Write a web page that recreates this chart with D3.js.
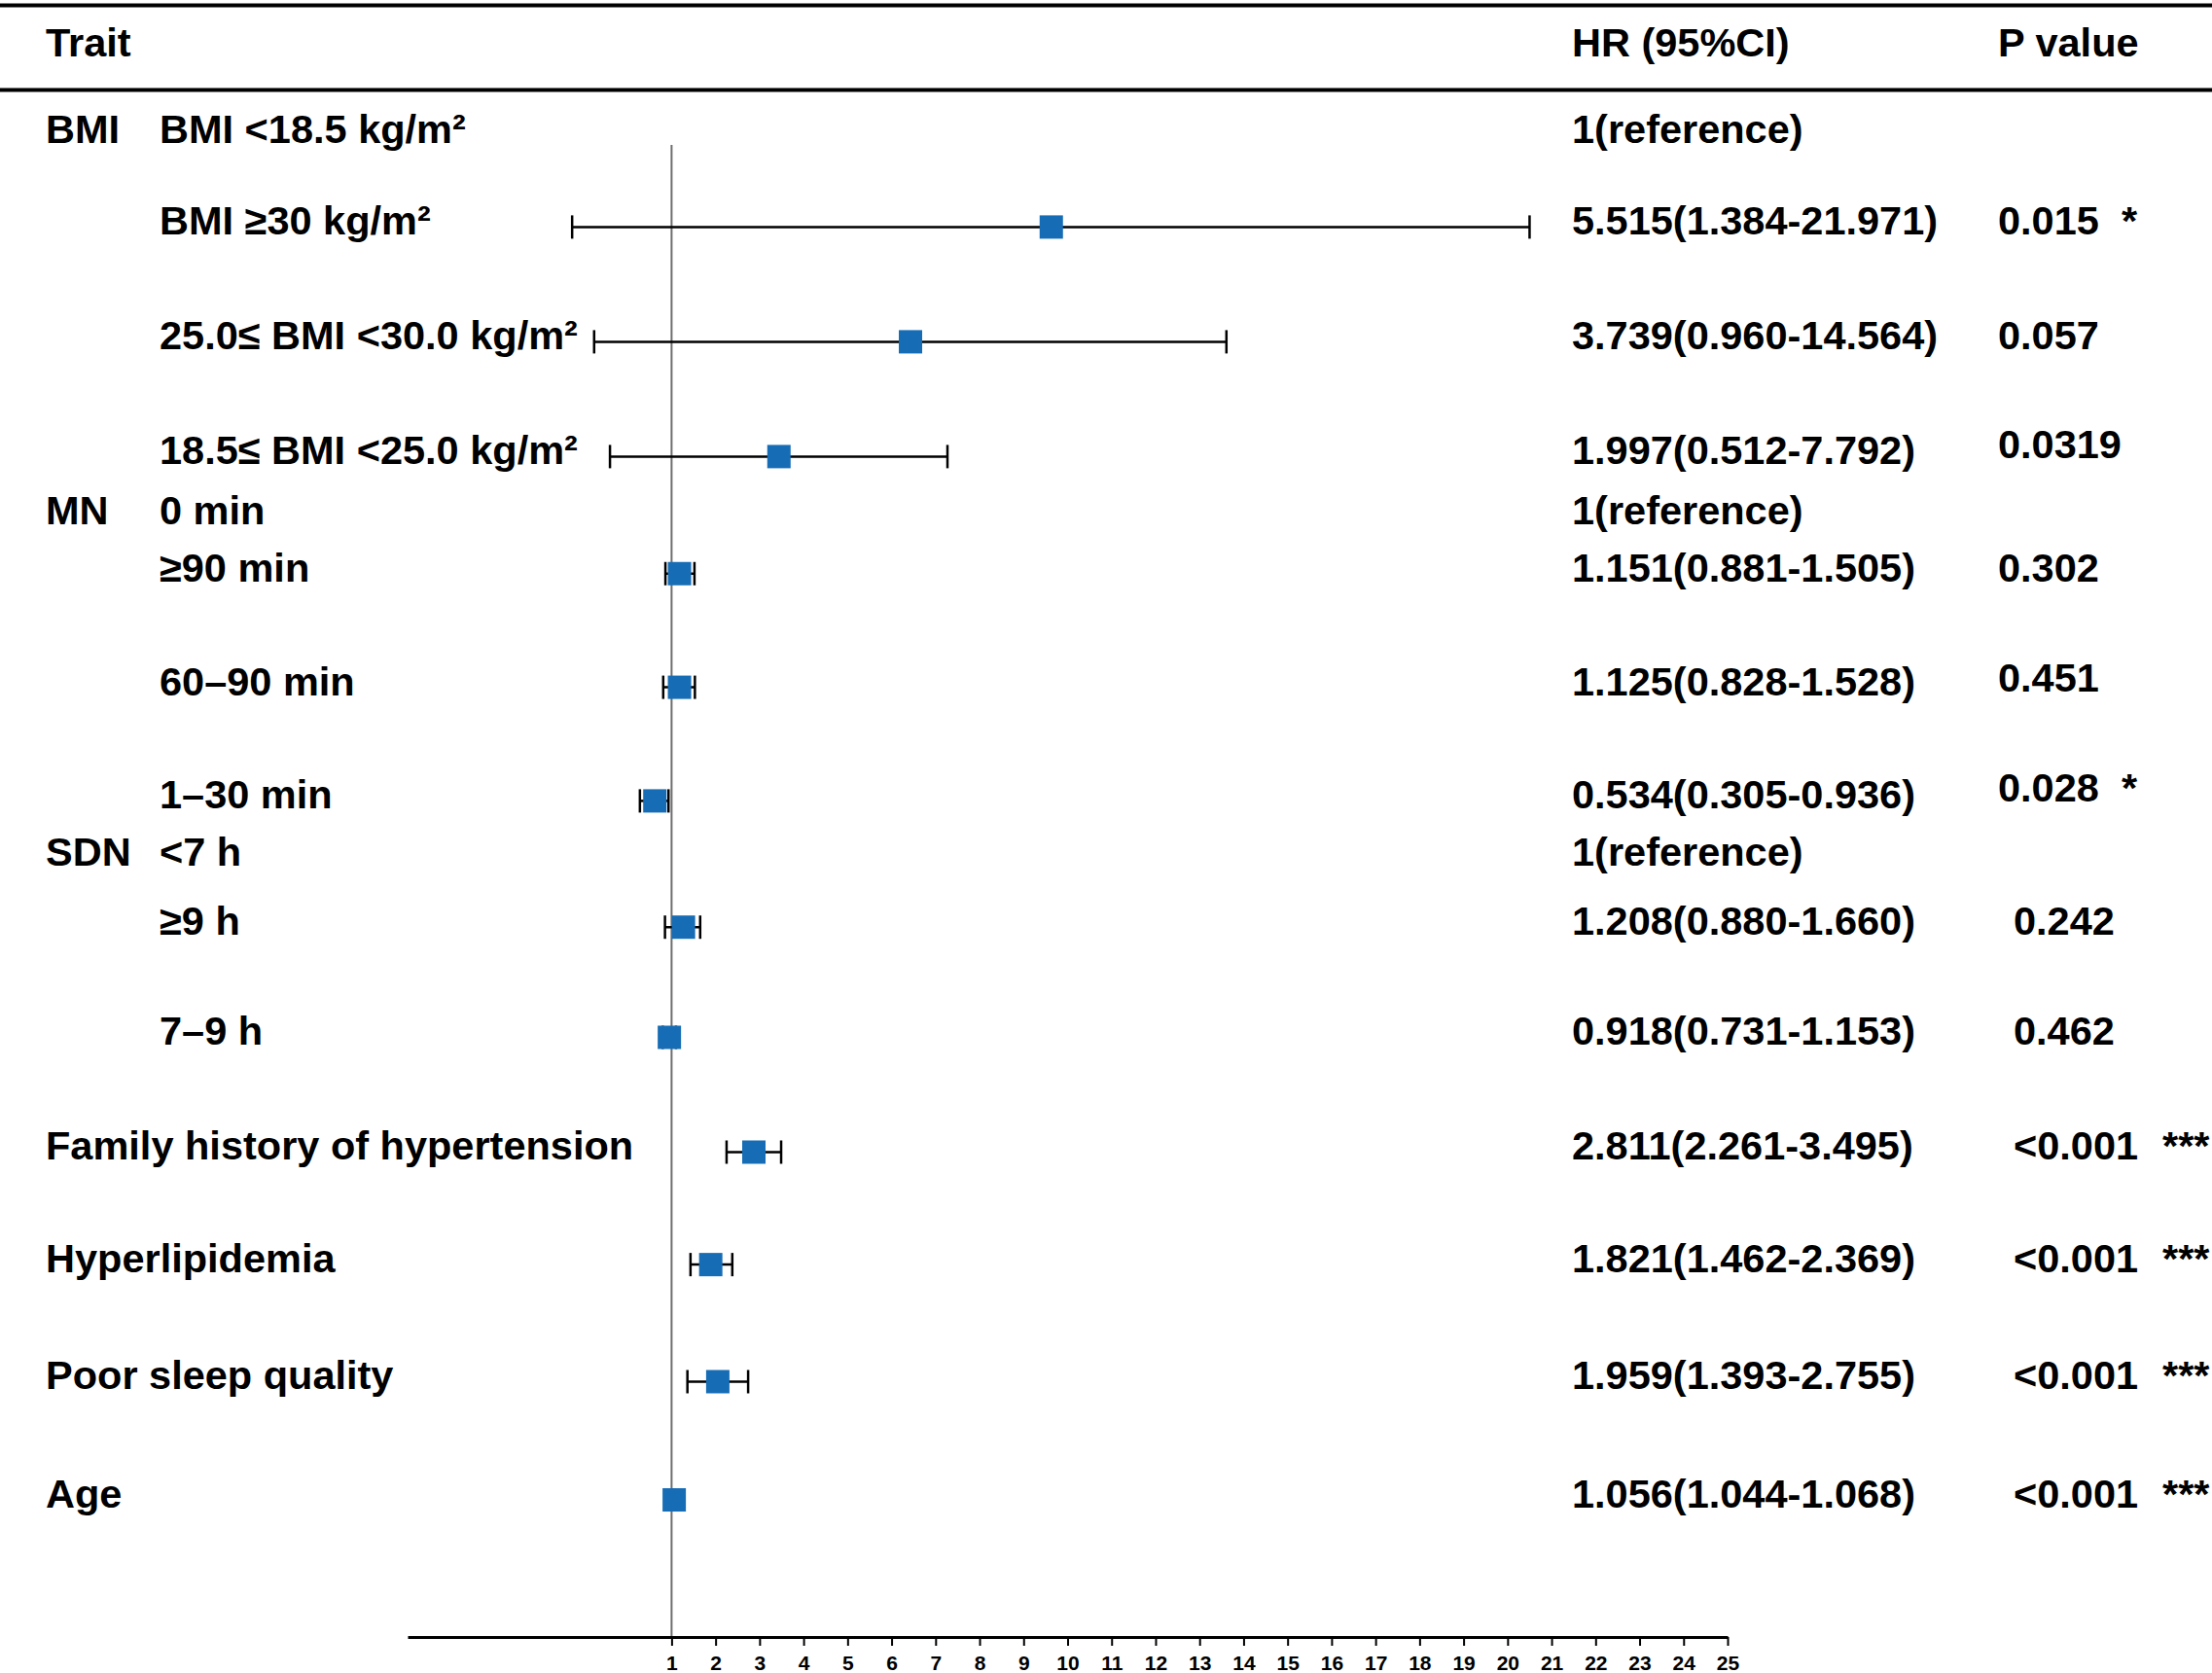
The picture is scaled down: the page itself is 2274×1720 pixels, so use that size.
<!DOCTYPE html>
<html>
<head>
<meta charset="utf-8">
<title>Forest plot</title>
<script src="https://cdn.jsdelivr.net/npm/d3@7"></script>
<style>
	body { margin: 0; background: #ffffff; }
	#forest-plot text { font-family: "Liberation Sans", Arial, sans-serif; font-weight: bold; fill: #000; }
</style>
</head>
<body>
<div id="forest-plot"></div>
<script>

// table rows, top to bottom
const traits = ["BMI", "", "", "", "MN", "", "", "", "SDN", "", "",
	"Family history of hypertension", "Hyperlipidemia", "Poor sleep quality", "Age"];

const levels = ["BMI <18.5 kg/m²", "BMI ≥30 kg/m²", "25.0≤ BMI <30.0 kg/m²", "18.5≤ BMI <25.0 kg/m²",
	"0 min", "≥90 min", "60–90 min", "1–30 min",
	"<7 h", "≥9 h", "7–9 h",
	"", "", "", ""];

const hrLabels = ["1(reference)", "5.515(1.384-21.971)", "3.739(0.960-14.564)", "1.997(0.512-7.792)",
	"1(reference)", "1.151(0.881-1.505)", "1.125(0.828-1.528)", "0.534(0.305-0.936)",
	"1(reference)", "1.208(0.880-1.660)", "0.918(0.731-1.153)",
	"2.811(2.261-3.495)", "1.821(1.462-2.369)", "1.959(1.393-2.755)", "1.056(1.044-1.068)"];

const pLabels = ["", "0.015", "0.057", "0.0319",
	"", "0.302", "0.451", "0.028",
	"", "0.242", "0.462",
	"<0.001", "<0.001", "<0.001", "<0.001"];

const stars = ["", "*", "", "", "", "", "", "*", "", "", "", "***", "***", "***", "***"];

// point and whisker ends as they sit on the drawn axis
const hrPlot = [null, 9.63, 6.43, 3.44, null, 1.18, 1.18, 0.62, null, 1.27, 0.95, 2.87, 1.89, 2.05, 1.06];
const loPlot = [null, -1.26, -0.76, -0.40, null, 0.86, 0.81, 0.28, null, 0.85, 0.80, 2.25, 1.43, 1.36, 1.05];
const hiPlot = [null, 20.50, 13.61, 7.27, null, 1.52, 1.53, 0.93, null, 1.65, 1.10, 3.49, 2.38, 2.74, 1.07];

const axisTicks = d3.range(1, 26);


class ForestPlot {

	constructor(parentElement) {
		this.parentElement = parentElement;
		this.displayData = null;

		this.initVis();
	}

	initVis () {
		let vis = this;

		vis.width = 2274;
		vis.height = 1720;

		vis.svg = d3.select("#" + vis.parentElement).append("svg")
			.attr("width", vis.width)
			.attr("height", vis.height);

		// rows are not evenly spaced: reference rows sit half a step from their neighbours
		vis.rowSlot = [0, 0.8, 1.8, 2.8, 3.32, 3.82, 4.81, 5.8, 6.3, 6.9, 7.86, 8.86, 9.84, 10.86, 11.89];
		vis.y = d3.scaleLinear()
			.domain([0, 1])
			.range([147, 265]);

		vis.x = d3.scaleLinear()
			.domain([-5, 25])
			.range([419, 1776]);

		vis.col = { trait: 47, level: 164, hr: 1616, p: 2054, pIndented: 2070, star1: 2181, star3: 2223 };
		vis.fontSize = 41.5;
		vis.boxSize = 24;
		vis.axisY = 1683;

		// table rules
		vis.svg.append("line")
			.attr("x1", 0).attr("x2", vis.width)
			.attr("y1", 5.5).attr("y2", 5.5)
			.attr("stroke", "#000").attr("stroke-width", 4);
		vis.svg.append("line")
			.attr("x1", 0).attr("x2", vis.width)
			.attr("y1", 92.5).attr("y2", 92.5)
			.attr("stroke", "#000").attr("stroke-width", 4);

		// header
		let header = vis.svg.append("g").attr("font-size", vis.fontSize);
		header.append("text").attr("x", vis.col.trait).attr("y", 58).text("Trait");
		header.append("text").attr("x", vis.col.hr).attr("y", 58).text("HR (95%CI)");
		header.append("text").attr("x", vis.col.p).attr("y", 58).text("P value");

		// line of no effect
		vis.svg.append("line")
			.attr("class", "ref-line")
			.attr("x1", vis.x(1)).attr("x2", vis.x(1))
			.attr("y1", 149).attr("y2", vis.axisY)
			.attr("stroke", "#6e6e6e")
			.attr("stroke-width", 2);

		vis.axisG = vis.svg.append("g")
			.attr("class", "x-axis")
			.attr("transform", "translate(0," + vis.axisY + ")");

		vis.wrangleData();
	}

	wrangleData () {
		let vis = this;

		vis.displayData = traits.map((t, i) => ({
			trait: t,
			level: levels[i],
			hr: hrLabels[i],
			p: pLabels[i],
			star: stars[i],
			est: hrPlot[i],
			lo: loPlot[i],
			hi: hiPlot[i],
			row: i
		}));

		vis.updateVis();
	}

	updateVis () {
		let vis = this;

		let baseline = d => vis.y(vis.rowSlot[d.row]);
		let markY = d => baseline(d) - 8;
		// a few P values sit slightly higher / further right in the figure
		let pLift = { 3: 6, 6: 4, 7: 7 };

		let rows = vis.svg.append("g")
			.attr("font-size", vis.fontSize)
			.selectAll(".row")
			.data(vis.displayData)
			.enter()
			.append("g")
			.attr("class", "row");

		rows.append("text")
			.attr("x", vis.col.trait)
			.attr("y", baseline)
			.text(d => d.trait);

		rows.append("text")
			.attr("x", vis.col.level)
			.attr("y", baseline)
			.text(d => d.level);

		rows.append("text")
			.attr("x", vis.col.hr)
			.attr("y", baseline)
			.text(d => d.hr);

		rows.append("text")
			.attr("x", d => d.row >= 9 ? vis.col.pIndented : vis.col.p)
			.attr("y", d => baseline(d) - (pLift[d.row] || 0))
			.text(d => d.p);

		rows.append("text")
			.attr("x", d => d.star.length > 1 ? vis.col.star3 : vis.col.star1)
			.attr("y", d => baseline(d) - (pLift[d.row] || 0))
			.text(d => d.star);

		// estimates
		let est = vis.displayData.filter(d => d.est !== null);
		let marks = vis.svg.append("g").attr("class", "marks");

		marks.selectAll(".ci")
			.data(est)
			.enter()
			.append("line")
			.attr("class", "ci")
			.attr("x1", d => vis.x(d.lo))
			.attr("x2", d => vis.x(d.hi))
			.attr("y1", markY)
			.attr("y2", markY)
			.attr("stroke", "#000")
			.attr("stroke-width", 2.5);

		["lo", "hi"].forEach(end => {
			marks.selectAll(".cap-" + end)
				.data(est)
				.enter()
				.append("line")
				.attr("class", "cap-" + end)
				.attr("x1", d => vis.x(d[end]))
				.attr("x2", d => vis.x(d[end]))
				.attr("y1", d => markY(d) - vis.boxSize / 2)
				.attr("y2", d => markY(d) + vis.boxSize / 2)
				.attr("stroke", "#000")
				.attr("stroke-width", 2.5);
		})

		marks.selectAll(".box")
			.data(est)
			.enter()
			.append("rect")
			.attr("class", "box")
			.attr("x", d => vis.x(d.est) - vis.boxSize / 2)
			.attr("y", d => markY(d) - vis.boxSize / 2)
			.attr("width", vis.boxSize)
			.attr("height", vis.boxSize)
			.attr("fill", "#176db5");

		// axis
		vis.axisG.call(d3.axisBottom(vis.x)
			.tickValues(axisTicks)
			.tickFormat(d3.format("d"))
			.tickSize(9)
			.tickSizeOuter(0)
			.tickPadding(10));

		vis.axisG.select(".domain")
			.attr("stroke", "#000")
			.attr("stroke-width", 3);
		vis.axisG.selectAll(".tick line")
			.attr("stroke", "#000")
			.attr("stroke-width", 2);
		vis.axisG.selectAll(".tick text")
			.attr("font-size", 21)
			.attr("font-family", null);
	}
}

new ForestPlot("forest-plot")

</script>
</body>
</html>
